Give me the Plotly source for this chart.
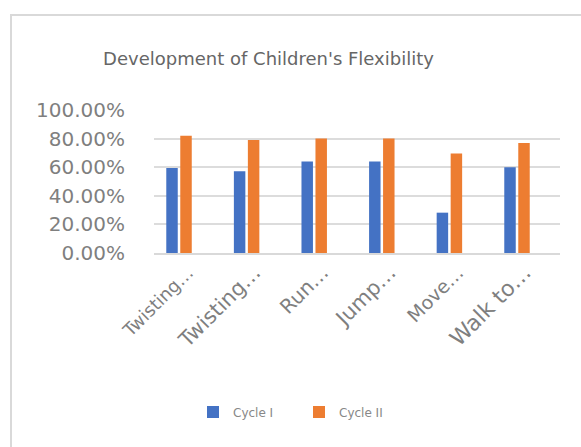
import plotly.graph_objects as go

categories = ["Twisting…", "Twisting…", "Run…", "Jump…", "Move…", "Walk to…"]
label_sizes = [18, 21, 20, 21, 19, 22]
cycle1 = [0.595, 0.572, 0.640, 0.640, 0.282, 0.600]
cycle2 = [0.820, 0.790, 0.800, 0.800, 0.695, 0.770]
series_names = ["Cycle I", "Cycle II"]
colors = ["#4472C4", "#ED7D31"]
y_ticks = [0, 0.2, 0.4, 0.6, 0.8, 1.0]

W, H = 581, 447
L, R, T, B = 154, 21, 110, 194
pw, ph = W - L - R, H - T - B

def px_x(p):
    return (p - L) / pw

def px_y(p):
    return (H - B - p) / ph

xs = list(range(len(categories)))
tick_text = [f'<span style="font-size:{s}px;fill:#7f7f7f">{c}</span>' for c, s in zip(categories, label_sizes)]

fig = go.Figure()
for name, vals, c in zip(series_names, [cycle1, cycle2], colors):
    fig.add_trace(go.Bar(x=xs, y=vals, name=name, marker=dict(color=c, line=dict(width=0))))

fig.update_layout(
    width=W, height=H,
    margin=dict(l=L, r=R, t=T, b=B),
    paper_bgcolor="white", plot_bgcolor="white",
    barmode="group", bargap=0.586, bargroupgap=0.18,
    title=dict(text="Development of Children's Flexibility", xref="container", x=268.5 / W,
               xanchor="center", yref="container", y=1 - 59 / H, yanchor="middle",
               font=dict(family="DejaVu Sans", size=18, color="#666666")),
    legend=dict(orientation="h", x=px_x(193), xanchor="left", y=px_y(412), yanchor="middle",
                font=dict(family="DejaVu Sans", size=12, color="#888888"),
                entrywidth=61, entrywidthmode="pixels",
                bgcolor="rgba(0,0,0,0)"),
    showlegend=True,
)
fig.update_xaxes(
    range=[-0.37, 5.636], tickmode="array", tickvals=xs, ticktext=tick_text,
    tickangle=-45, tickfont=dict(family="DejaVu Sans", size=18, color="#7f7f7f"),
    showgrid=False, showline=True, linecolor="#d9d9d9", linewidth=2,
    ticks="", ticklabelshift=9, ticklabelstandoff=0,
    zeroline=False, fixedrange=True,
)
fig.update_yaxes(
    range=[0, 1.0], tickmode="array", tickvals=y_ticks, tickformat=".2%",
    tickfont=dict(family="DejaVu Sans", size=20, color="#7f7f7f"),
    showgrid=True, gridcolor="#dcdcdc", gridwidth=2, zeroline=False, showline=False,
    ticks="outside", ticklen=24, tickcolor="rgba(0,0,0,0)",
)
fig.add_shape(type="rect", xref="paper", yref="paper",
              x0=px_x(11), x1=px_x(600), y0=px_y(15), y1=px_y(470),
              line=dict(color="#d9d9d9", width=2), fillcolor="rgba(0,0,0,0)", layer="below")

fig.write_html("out.html")
